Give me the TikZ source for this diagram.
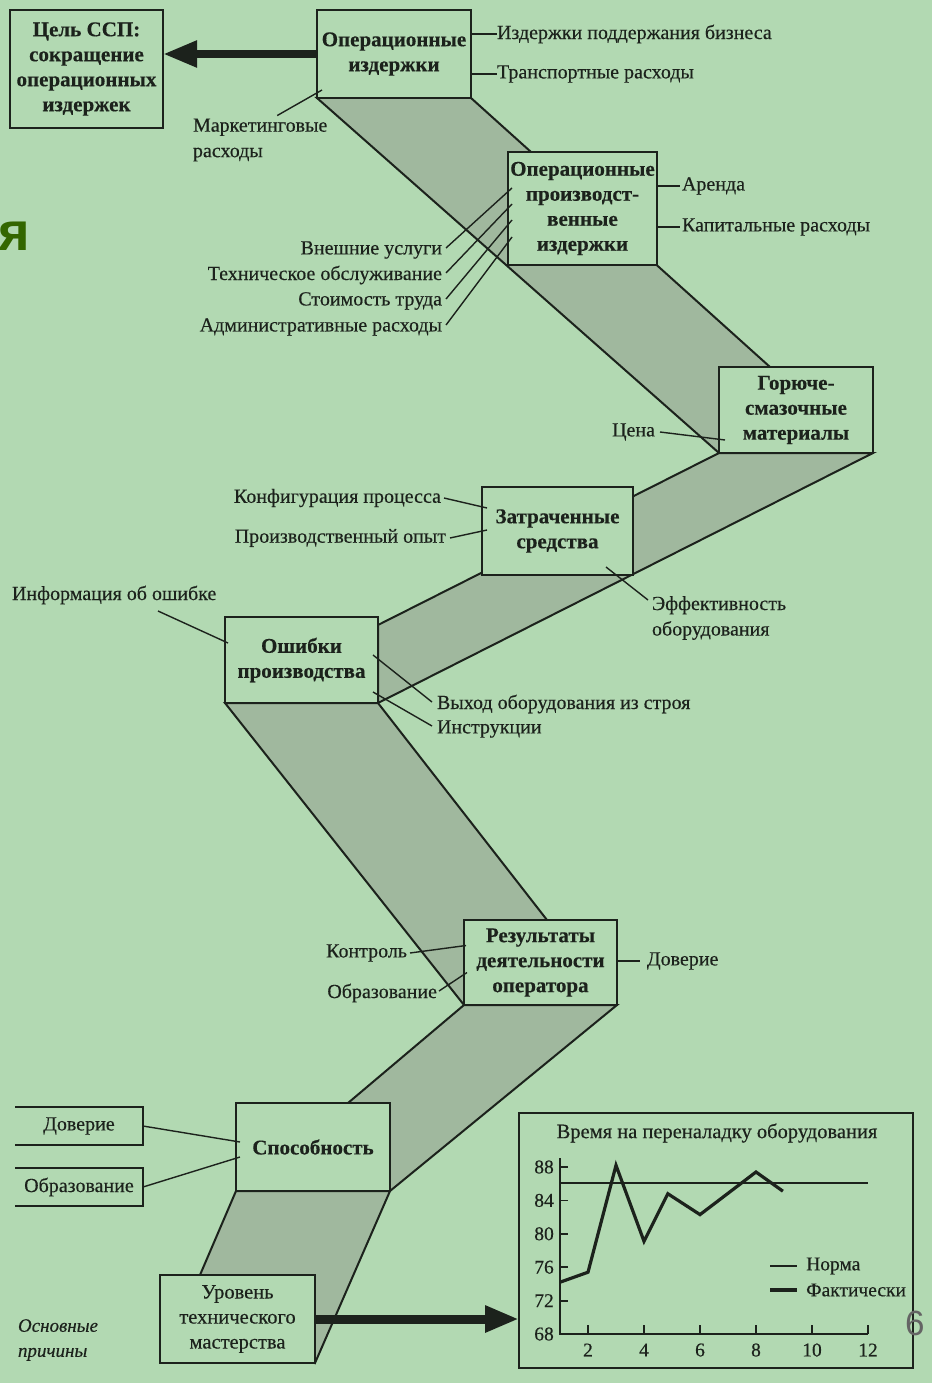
\documentclass[tikz,border=0pt]{standalone}
\usepackage{fontspec}
\setmainfont{Liberation Serif}[FakeBold=0.35]
\newfontfamily\sansfont{Liberation Sans}
\usetikzlibrary{arrows.meta,calc}
\definecolor{bg}{RGB}{178,217,178}
\definecolor{band}{RGB}{160,184,158}
\definecolor{ink}{RGB}{28,34,28}
\definecolor{headgreen}{RGB}{51,102,0}
\definecolor{pagenum}{RGB}{100,100,100}
\pgfdeclarelayer{backdrop}
\pgfdeclarelayer{bands}
\pgfsetlayers{backdrop,bands,main}

\begin{document}
\begin{tikzpicture}[x=1pt,y=-1pt,
  box/.style={draw=ink, line width=2.2pt, fill=bg, outer sep=0pt, inner sep=0pt,
    align=center, text=ink, font=\bfseries\fontsize{21}{25}\selectfont},
  plainbox/.style={box, font=\fontsize{20.5}{25}\selectfont},
  lbl/.style={inner sep=0pt, outer sep=0pt, text=ink, font=\fontsize{20}{25.5}\selectfont},
  conn/.style={draw=ink, line width=1.4pt},
  bandshape/.style={fill=band, draw=ink, line width=2pt},
  bigarrow/.style={draw=ink, -{Triangle[length=34pt,width=25pt]}},
  axis/.style={draw=ink, line width=1.8pt},
  tick/.style={inner sep=0pt, text=ink, font=\fontsize{19.5}{22}\selectfont}]

\useasboundingbox (0,0) rectangle (932,1383);
\begin{pgfonlayer}{backdrop}
  \fill[bg] (0,0) rectangle (932,1383);
\end{pgfonlayer}

% ---------- boxes of the chain ----------
\node[box, minimum width=153pt, minimum height=118pt] (goal) at (86.5,69)
  {Цель ССП:\\сокращение\\операционных\\издержек};
\node[box, minimum width=154pt, minimum height=88pt] (op) at (394,54)
  {Операционные\\издержки};
\node[box, minimum width=149pt, minimum height=113pt] (opr) at (582.5,208.5)
  {Операционные\\производст-\\венные\\издержки};
\node[box, minimum width=154pt, minimum height=86pt] (gsm) at (796,410)
  {Горюче-\\смазочные\\материалы};
\node[box, minimum width=151pt, minimum height=88pt] (zat) at (557.5,531)
  {Затраченные\\средства};
\node[box, minimum width=153pt, minimum height=86pt] (err) at (301.5,660)
  {Ошибки\\производства};
\node[box, minimum width=153pt, minimum height=85pt] (res) at (540.5,962.5)
  {Результаты\\деятельности\\оператора};
\node[box, minimum width=154pt, minimum height=88pt] (cap) at (313,1147)
  {Способность};
\node[plainbox, minimum width=155pt, minimum height=88pt] (lvl) at (237.5,1319)
  {Уровень\\технического\\мастерства};
\node[draw=ink, line width=2pt, outer sep=0pt, inner sep=0pt,
  minimum width=394pt, minimum height=255pt] (chart) at (716,1240.5) {};

% ---------- shaded bands between the boxes ----------
\coordinate (b1r) at (770,367);
\coordinate (b2l) at (378,625);
\coordinate (b4r) at (547,920);
\coordinate (b5l) at (348,1103);
\coordinate (b6l) at (200,1275);
\begin{pgfonlayer}{bands}
  \path[bandshape] (op.south west) -- (op.south east) -- (b1r) -- (gsm.south west) -- cycle;
  \path[bandshape] (gsm.south west) -- (gsm.south east) -- (err.south east) -- (b2l) -- cycle;
  \path[bandshape] (err.south west) -- (err.south east) -- (b4r) -- (res.south west) -- cycle;
  \path[bandshape] (res.south west) -- (res.south east) -- (cap.south east) -- (b5l) -- cycle;
  \path[bandshape] (cap.south west) -- (cap.south east) -- (lvl.south east) -- (b6l) -- cycle;
\end{pgfonlayer}

% ---------- thick arrows ----------
\draw[bigarrow, line width=8pt] (op.west) -- (goal.east |- op.west);
\draw[bigarrow, line width=9pt] (lvl.east) -- (chart.west |- lvl.east);

% ---------- labels ----------
\node[lbl, anchor=west] (l1) at (497,34) {Издержки поддержания бизнеса};
\node[lbl, anchor=west] (l2) at (497,74) {Транспортные расходы};
\node[lbl, anchor=west, align=left] (mkt) at (193,140) {Маркетинговые\\расходы};
\node[lbl, anchor=west] (l4) at (682,186) {Аренда};
\node[lbl, anchor=west] (l5) at (682,227) {Капитальные расходы};
\node[lbl, anchor=east] (l6) at (442,250) {Внешние услуги};
\node[lbl, anchor=east] (l7) at (442,275) {Техническое обслуживание};
\node[lbl, anchor=east] (l8) at (442,301) {Стоимость труда};
\node[lbl, anchor=east] (l9) at (442,327) {Административные расходы};
\node[lbl, anchor=east] (l10) at (655,432) {Цена};
\node[lbl, anchor=east] (l11) at (441,498) {Конфигурация процесса};
\node[lbl, anchor=east] (l12) at (446,538) {Производственный опыт};
\node[lbl, anchor=west, align=left] (l13) at (652,618) {Эффективность\\оборудования};
\node[lbl, anchor=west] (l14) at (12,595) {Информация об ошибке};
\node[lbl, anchor=west] (l15) at (437,704) {Выход оборудования из строя};
\node[lbl, anchor=west] (l16) at (437,729) {Инструкции};
\node[lbl, anchor=east] (l17) at (407,953) {Контроль};
\node[lbl, anchor=east] (l18) at (437,993) {Образование};
\node[lbl, anchor=west] (l19) at (647,961) {Доверие};
\node[lbl, minimum width=128pt, minimum height=38pt] (tr) at (79,1126) {Доверие};
\node[lbl, minimum width=128pt, minimum height=38pt] (ob) at (79,1187) {Образование};
\node[lbl, anchor=west, align=left, font=\itshape\fontsize{19}{25}\selectfont] (why) at (18,1340)
  {Основные\\причины};

% open-ended frames of the two root causes
\draw[conn, line width=2pt] (tr.north west) -- (tr.north east) -- (tr.south east) -- (tr.south west);
\draw[conn, line width=2pt] (ob.north west) -- (ob.north east) -- (ob.south east) -- (ob.south west);

% ---------- label connectors ----------
\draw[conn] (op.east |- l1.west) -- (l1.west);
\draw[conn] (op.east |- l2.west) -- (l2.west);
\draw[conn] ($(mkt.north)+(17,-3)$) -- ($(op.south west)+(5,-8)$);
\draw[conn] (opr.east |- l4.west) -- ($(l4.west)+(-2,0)$);
\draw[conn] (opr.east |- l5.west) -- ($(l5.west)+(-2,0)$);
\draw[conn] ($(l6.east)+(4,-2)$) -- ($(opr.west)+(4,-20.5)$);
\draw[conn] ($(l7.east)+(4,-2)$) -- ($(opr.west)+(4,-4.5)$);
\draw[conn] ($(l8.east)+(4,-2)$) -- ($(opr.west)+(4,11.5)$);
\draw[conn] ($(l9.east)+(4,-2)$) -- ($(opr.west)+(4,28.5)$);
\draw[conn] ($(l10.east)+(5,0)$) -- ($(gsm.south west)+(6,-13)$);
\draw[conn] ($(l11.east)+(3,0)$) -- ($(zat.west)+(5,-23)$);
\draw[conn] ($(l12.east)+(4,0)$) -- ($(zat.west)+(5,-1)$);
\draw[conn] ($(l13.west)+(-4,-18)$) -- ($(zat.south east)+(-27,-8)$);
\draw[conn] ($(l14.west)+(146,16)$) -- ($(err.west)+(3,-17)$);
\draw[conn] ($(l15.west)+(-5,-2)$) -- ($(err.east)+(-5,-5)$);
\draw[conn] ($(l16.west)+(-5,-3)$) -- ($(err.east)+(-5,32)$);
\draw[conn] ($(l17.east)+(3,0)$) -- ($(res.west)+(2,-17)$);
\draw[conn] ($(l18.east)+(2,-2)$) -- ($(res.west)+(3,10)$);
\draw[conn] (res.east |- l19.west) -- ($(l19.west)+(-7,0)$);
\draw[conn] (tr.east) -- ($(cap.west)+(4,-5)$);
\draw[conn] (ob.east) -- ($(cap.west)+(4,10)$);

% ---------- changeover time chart ----------
\node[tick, font=\fontsize{20.5}{22}\selectfont] (ctitle) at (717,1133) {Время на переналадку оборудования};
\draw[axis] (560,1158) -- (560,1334) -- (868,1334);
\foreach \v/\yy in {88/1167,84/1200.4,80/1233.8,76/1267.2,72/1300.6,68/1334}{
  \draw[axis] (560,\yy) -- (568,\yy);
  \node[tick, anchor=east] at (554,\yy) {\v};
}
\foreach \v/\xx in {2/588,4/644,6/700,8/756,10/812,12/868}{
  \draw[axis] (\xx,1334) -- (\xx,1325);
  \node[tick] at (\xx,1350) {\v};
}
\draw[draw=ink, line width=1.4pt] (560,1183) -- (868,1183);
\draw[draw=ink, line width=3.2pt, line join=miter]
  (560,1282.2) -- (588,1272.2) -- (616,1165.3) -- (644,1241.3) -- (667.8,1193.7)
  -- (700,1214.6) -- (756,1172) -- (782.9,1191.2);
\draw[draw=ink, line width=1.4pt] (770,1266) -- (797,1266);
\node[tick, anchor=west] at (806,1266) {Норма};
\draw[draw=ink, line width=3.2pt] (770,1290) -- (797,1290);
\node[tick, anchor=west] at (806,1290) {Фактически};

% ---------- slide leftovers ----------
\node[inner sep=0pt, anchor=base west, text=headgreen, font=\sansfont\bfseries\fontsize{54}{54}\selectfont] (ya) at (-2,250) {я};
\node[inner sep=0pt, anchor=base west, text=pagenum, font=\sansfont\fontsize{35}{35}\selectfont] (pg) at (905,1335) {6};
\end{tikzpicture}
\end{document}
